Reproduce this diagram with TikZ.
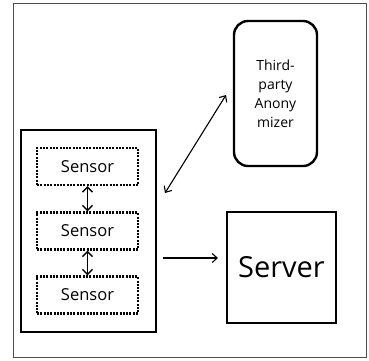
\documentclass[tikz,border=0pt]{standalone}
\usepackage{fontspec}
\setmainfont{Open Sans}
\usetikzlibrary{arrows.meta}
\begin{document}
\begin{tikzpicture}[x=1pt,y=-1pt,
  frame/.style={draw=black!70,line width=0.8pt},
  groupbox/.style={draw,line width=2.4pt,minimum width=135pt,minimum height=202pt,inner sep=0pt},
  sensorbox/.style={draw,line width=2.2pt,dash pattern=on 2pt off 1.3pt,minimum width=101pt,minimum height=37pt,inner sep=0pt,font=\fontsize{16.5}{18}\selectfont},
  anonbox/.style={draw,line width=2.4pt,rounded corners=14pt,minimum width=83pt,minimum height=145pt,inner sep=0pt,align=center,font=\fontsize{14}{19}\selectfont},
  serverbox/.style={draw,line width=2.2pt,minimum width=109pt,minimum height=111pt,inner sep=0pt,font=\fontsize{29}{32}\selectfont},
  arr/.style={line width=1.1pt,-{Straight Barb[length=5pt,width=9pt]}},
  darr/.style={line width=1.1pt,{Straight Barb[length=5pt,width=9pt]}-{Straight Barb[length=5pt,width=9pt]}},
  sarr/.style={line width=1.5pt,{Straight Barb[length=5pt,width=10pt]}-{Straight Barb[length=5pt,width=10pt]}}]
\useasboundingbox (0,0) rectangle (369,360);
\draw[frame] (13,3) rectangle (366,357);
\node[groupbox] (grp) at (88.5,231) {};
\node[sensorbox] (s1) at (87.5,166.5) {Sensor};
\node[sensorbox] (s2) at (87.5,231) {Sensor};
\node[sensorbox] (s3) at (87.5,295) {Sensor};
\node[anonbox] (anon) at (275.5,93.5) {Third-\\party\\Anony\\mizer};
\node[serverbox] (srv) at (281.5,267.5) {Server};
\coordinate (g1) at (165,193);
\coordinate (a1) at (226,95);
\coordinate (g2) at (163,258);
\coordinate (v1) at (218,258);
\draw[sarr] (s1.south) -- (s2.north);
\draw[sarr] (s2.south) -- (s3.north);
\draw[darr] (g1) -- (a1);
\draw[arr] (g2) -- (v1);
\end{tikzpicture}
\end{document}
